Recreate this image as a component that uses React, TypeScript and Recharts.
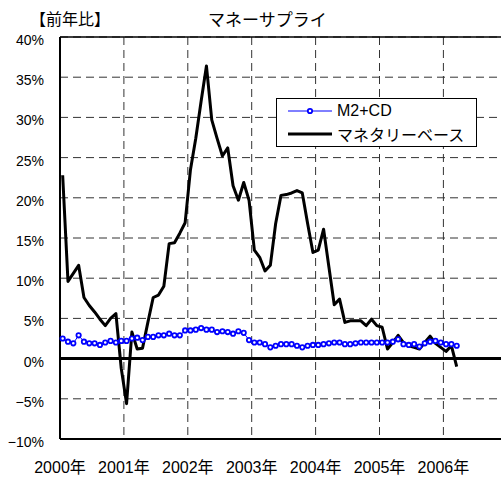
import {
  LineChart,
  Line,
  XAxis,
  YAxis,
  CartesianGrid,
  ReferenceLine,
  Legend,
} from "recharts";

// monthly, Jan 2000 .. Mar 2006 (year-on-year %)
const m2cd = [
  2.5, 2.1, 1.9, 2.9, 2.1, 1.9, 1.9, 1.7, 2.0, 2.2, 2.0, 2.2,
  2.2, 2.5, 2.6, 2.3, 2.7, 2.7, 2.9, 2.9, 3.1, 2.9, 2.9, 3.5,
  3.5, 3.6, 3.8, 3.6, 3.6, 3.3, 3.4, 3.3, 3.1, 3.4, 3.2, 2.3,
  2.0, 2.0, 1.8, 1.4, 1.6, 1.8, 1.8, 1.8, 1.6, 1.4, 1.6, 1.7,
  1.7, 1.8, 1.9, 2.0, 2.0, 1.8, 1.8, 1.9, 2.0, 2.0, 2.0, 2.0,
  2.0, 2.0, 2.1, 2.4, 1.8, 1.7, 1.8, 1.5, 1.9, 2.1, 2.2, 2.0,
  1.8, 1.8, 1.6,
];

const monetaryBase = [
  22.8, 9.6, 10.6, 11.6, 7.6, 6.6, 5.8, 4.9, 4.1, 5.0, 5.6, -1.2,
  -5.6, 3.3, 1.2, 1.3, 4.5, 7.6, 7.9, 9.0, 14.3, 14.4, 15.6, 16.9,
  23.5, 27.4, 32.0, 36.4, 29.7, 27.4, 25.2, 26.2, 21.5, 19.7, 21.9, 19.7,
  13.5, 12.6, 10.9, 11.6, 16.8, 20.3, 20.4, 20.6, 20.9, 20.6, 16.8, 13.2,
  13.5, 16.1, 11.4, 6.7, 7.4, 4.5, 4.7, 4.7, 4.7, 4.1, 4.9, 4.1,
  3.9, 1.2, 2.0, 2.9, 2.0, 1.6, 1.4, 1.2, 2.0, 2.8, 1.9, 1.4,
  0.9, 1.6, -1.0,
];

const yearLabels = ["2000年", "2001年", "2002年", "2003年", "2004年", "2005年", "2006年"];
const yTicks = [-10, -5, 0, 5, 10, 15, 20, 25, 30, 35, 40];

const FONT = "'Liberation Sans', 'Noto Sans CJK JP', sans-serif";

// each point sits in the middle of its month
const data = m2cd.map((v, i) => ({
  month: i + 0.5,
  m2cd: v,
  base: monetaryBase[i],
}));

const xTicks = yearLabels.map((_, i) => i * 12);

function YTick(props: any) {
  const { x, y, payload } = props;
  const v = payload.value as number;
  const label = v < 0 ? `\u2212${Math.abs(v)}%` : `${v}%`;
  return (
    <text x={x} y={y} dy={8} textAnchor="end" fontSize={14} fill="#000" fontFamily={FONT}>
      {label}
    </text>
  );
}

function XTick(props: any) {
  const { x, y, payload } = props;
  const label = yearLabels[Math.round(payload.value / 12)];
  return (
    <text x={x} y={y} dy={34} textAnchor="middle" fontSize={16} fill="#000" fontFamily={FONT}>
      {label}
    </text>
  );
}

function LegendBox() {
  const row = { display: "flex", alignItems: "center", height: 23 } as const;
  return (
    <div
      style={{
        width: 201,
        height: 49,
        boxSizing: "border-box",
        border: "1px solid #000",
        background: "#fff",
        paddingLeft: 11,
        fontFamily: FONT,
        fontSize: 16,
        color: "#000",
      }}
    >
      <div style={row}>
        <svg width={44} height={10}>
          <line x1={0} y1={5} x2={44} y2={5} stroke="#0000ff" strokeWidth={1} />
          <circle cx={22} cy={5} r={2.2} fill="#fff" stroke="#0000ff" strokeWidth={1.8} />
        </svg>
        <span style={{ marginLeft: 5 }}>M2+CD</span>
      </div>
      <div style={row}>
        <svg width={44} height={10}>
          <line x1={0} y1={5} x2={44} y2={5} stroke="#000" strokeWidth={3} />
        </svg>
        <span style={{ marginLeft: 5 }}>マネタリーベース</span>
      </div>
    </div>
  );
}

export default function App() {
  return (
    <div
      style={{
        position: "absolute",
        left: 0,
        top: 0,
        width: 501,
        height: 477,
        overflow: "hidden",
        background: "#fff",
        fontFamily: FONT,
      }}
    >
      <div style={{ position: "absolute", left: 30, top: 12, fontSize: 16, lineHeight: "16px" }}>
        【前年比】
      </div>
      <div style={{ position: "absolute", left: 208, top: 12, fontSize: 17, lineHeight: "17px" }}>
        マネーサプライ
      </div>
      <LineChart
        width={520}
        height={477}
        data={data}
        margin={{ top: 37, right: 12.7, bottom: 0, left: 0 }}
      >
        <CartesianGrid strokeDasharray="8 5" stroke="#333" />
        <XAxis
          dataKey="month"
          type="number"
          domain={[0, 84]}
          ticks={xTicks}
          height={38}
          tickSize={0}
          tickMargin={0}
          tick={<XTick />}
          axisLine={{ stroke: "#000", strokeWidth: 2 }}
          tickLine={false}
        />
        <YAxis
          type="number"
          domain={[-10, 40]}
          ticks={yTicks}
          width={60}
          tickSize={0}
          tickMargin={16}
          tick={<YTick />}
          axisLine={{ stroke: "#000", strokeWidth: 2 }}
          tickLine={false}
        />
        <ReferenceLine y={40} stroke="#000" strokeWidth={1.5} />
        <ReferenceLine y={0} stroke="#000" strokeWidth={3} />
        <Line
          type="linear"
          dataKey="m2cd"
          name="M2+CD"
          stroke="#0000ff"
          strokeWidth={1}
          dot={{ r: 2.2, fill: "#fff", stroke: "#0000ff", strokeWidth: 1.8 }}
          isAnimationActive={false}
        />
        <Line
          type="linear"
          dataKey="base"
          name="マネタリーベース"
          stroke="#000"
          strokeWidth={3}
          strokeLinejoin="round"
          dot={false}
          isAnimationActive={false}
        />
        <Legend
          layout="horizontal"
          verticalAlign="middle"
          align="center"
          content={() => <LegendBox />}
          wrapperStyle={{ left: 276, top: 98, width: 201 }}
        />
      </LineChart>
    </div>
  );
}
